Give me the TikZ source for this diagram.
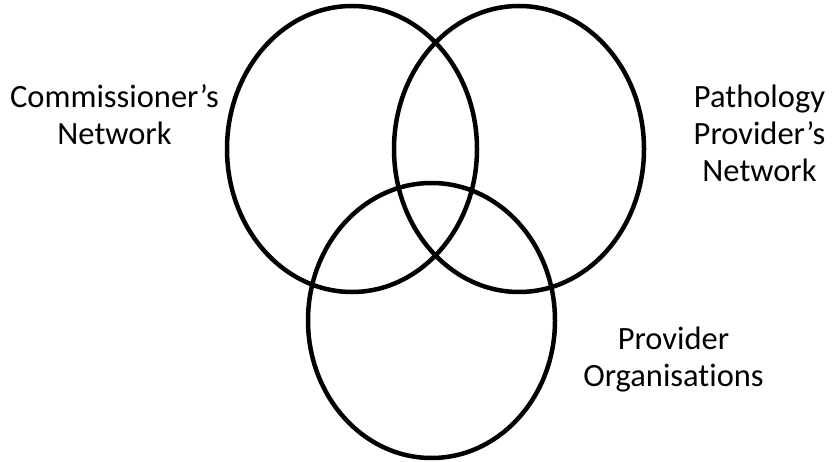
\documentclass[tikz,border=0pt]{standalone}
\usepackage{fontspec}
\setmainfont{Carlito}[Ligatures=CommonOff]
\usetikzlibrary{positioning, shapes.geometric}
\tikzset{
    bigellipse/.style={draw, ellipse, line width=4.5pt, inner sep=0pt, minimum width=250pt, minimum height=286pt},
    place/.style={inner sep=0pt, outer sep=0pt, align=center, font=\fontsize{32.5}{37}\selectfont}
}
\begin{document}
\begin{tikzpicture}[x=1pt, y=-1pt]
  \useasboundingbox (0,0) rectangle (835,462);
  \node(L)[bigellipse] at (352,149){};
  \node(R)[bigellipse] at (519,149){};
  \node(B)[bigellipse, minimum width=247pt, minimum height=275pt] at (431.5,320.5){};
  \node(CN)[place] at (114.5,115){Commissioner’s\\Network};
  \node(PN)[place] at (759.5,133){Pathology\\Provider’s\\Network};
  \node(PO)[place] at (673.5,360){Provider\\Organisations};
\end{tikzpicture}
\end{document}
